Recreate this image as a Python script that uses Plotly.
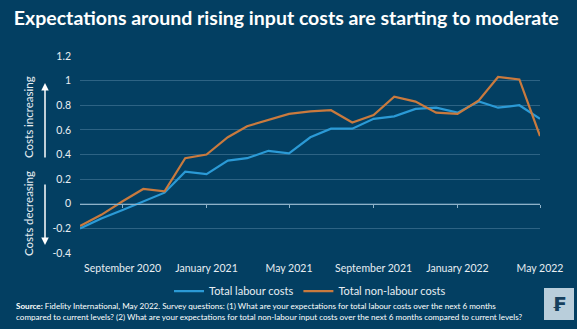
import plotly.graph_objects as go
import pandas as pd

months = pd.date_range("2020-07-01", "2022-05-01", freq="MS")
labour = [-0.20, -0.12, -0.05, 0.02, 0.09, 0.26, 0.24, 0.35, 0.37, 0.43, 0.41, 0.54,
          0.61, 0.61, 0.69, 0.71, 0.77, 0.78, 0.74, 0.83, 0.78, 0.80, 0.69]
nonlabour = [-0.18, -0.09, 0.02, 0.12, 0.10, 0.37, 0.40, 0.54, 0.63, 0.68, 0.73, 0.75,
             0.76, 0.66, 0.72, 0.87, 0.83, 0.74, 0.73, 0.84, 1.03, 1.01, 0.55]
tick_dates = ["2020-09-01", "2021-01-01", "2021-05-01", "2021-09-01", "2022-01-01", "2022-05-01"]
tick_labels = ["September 2020", "January 2021", "May 2021", "September 2021", "January 2022", "May 2022"]
y_ticks = [-0.4, -0.2, 0, 0.2, 0.4, 0.6, 0.8, 1, 1.2]
y_labels = ["-0.4", "-0.2", "0", "0.2", "0.4", "0.6", "0.8", "1", "1.2"]

BG = "#033f62"
GRID = "#2d6384"
TXT = "#ffffff"
FONT = "Lato"

W, H = 577, 329
l, r, t, b = 80, 37, 56, 76
pw, ph = W - l - r, H - t - b
def px(xp):
    return (xp - l) / pw
def py(yp):
    return (H - b - yp) / ph

fig = go.Figure()
fig.add_trace(go.Scatter(x=months, y=labour, mode="lines", name="Total labour costs",
                         line=dict(color="#2b9ad6", width=2.2)))
fig.add_trace(go.Scatter(x=months, y=nonlabour, mode="lines", name="Total non-labour costs",
                         line=dict(color="#c97a3e", width=2.2)))
fig.add_trace(go.Scatter(x=[months[0], months[-1]], y=[0, 0], xaxis="x2", mode="lines",
                         line=dict(width=0), showlegend=False, hoverinfo="skip"))

fig.update_layout(
    width=W, height=H,
    margin=dict(l=l, r=r, t=t, b=b),
    paper_bgcolor=BG, plot_bgcolor=BG,
    font=dict(family=FONT, color=TXT, size=11),
    title=dict(text="<b>Expectations around rising input costs are starting to moderate</b>",
               x=0.024, xanchor="left", y=0.945, yanchor="middle",
               font=dict(size=19.5, color=TXT, family=FONT)),
    showlegend=True,
    legend=dict(orientation="h", x=0.5, xanchor="center", y=-0.12, yanchor="top",
                font=dict(size=11, color="#e8eef2"), bgcolor="rgba(0,0,0,0)",
                itemwidth=30, tracegroupgap=0),
    xaxis=dict(range=[months[0], months[-1]], tickvals=tick_dates, ticktext=tick_labels,
               showgrid=False, zeroline=False, showline=False, ticks="",
               tickfont=dict(size=10.5, color="#e8eef2"), ticklabelstandoff=7),
    xaxis2=dict(range=[months[0], months[-1]], overlaying="x", anchor="free", position=0.25,
                side="bottom", tickvals=tick_dates, showticklabels=False, showgrid=False,
                showline=True, linecolor="#8fb2c8", linewidth=1, ticks="outside",
                ticklen=3, tickcolor="#8fb2c8", zeroline=False),
    yaxis=dict(range=[-0.4, 1.2], tickvals=y_ticks, ticktext=y_labels, showgrid=True,
               gridcolor=GRID, gridwidth=1, zeroline=False, showline=False,
               tickfont=dict(size=10.5, color="#e8eef2"), ticklabelstandoff=8),
)

fig.add_annotation(text="Costs increasing", x=px(28), y=py(117), xref="paper", yref="paper",
                   xanchor="center", yanchor="middle",
                   showarrow=False, textangle=-90, font=dict(size=11.5, color="#e8eef2"))
fig.add_annotation(text="Costs decreasing", x=px(28), y=py(214), xref="paper", yref="paper",
                   xanchor="center", yanchor="middle",
                   showarrow=False, textangle=-90, font=dict(size=11.5, color="#e8eef2"))

fig.add_annotation(x=px(45), y=py(83), ax=0, ay=76, xref="paper", yref="paper",
                   axref="pixel", ayref="pixel", showarrow=True, arrowhead=2, arrowsize=1,
                   arrowwidth=1.5, arrowcolor="#ffffff", text="")
fig.add_annotation(x=px(45), y=py(245), ax=0, ay=-62, xref="paper", yref="paper",
                   axref="pixel", ayref="pixel", showarrow=True, arrowhead=2, arrowsize=1,
                   arrowwidth=1.5, arrowcolor="#ffffff", text="")

fig.add_annotation(
    text=("<b>Source:</b> Fidelity International, May 2022. Survey questions: (1) What are your expectations for total labour costs over the next 6 months<br>"
          "compared to current levels? (2) What are your expectations for total non-labour input costs over the next 6 months compared to current levels?"),
    x=px(14), y=py(311), xref="paper", yref="paper", xanchor="left", yanchor="middle",
    align="left", showarrow=False, font=dict(size=8.1, color="#ffffff", family=FONT))

fig.add_shape(type="rect", xref="paper", yref="paper", x0=px(544), x1=px(574),
              y0=py(320), y1=py(288), fillcolor="#b9cedb", line=dict(width=0), layer="above")
fig.add_annotation(text="<b>₣</b>", x=px(559), y=py(304), xref="paper", yref="paper",
                   xanchor="center", yanchor="middle",
                   showarrow=False, font=dict(size=20, color="#16405e", family="DejaVu Sans"))

fig.write_html("out.html")
